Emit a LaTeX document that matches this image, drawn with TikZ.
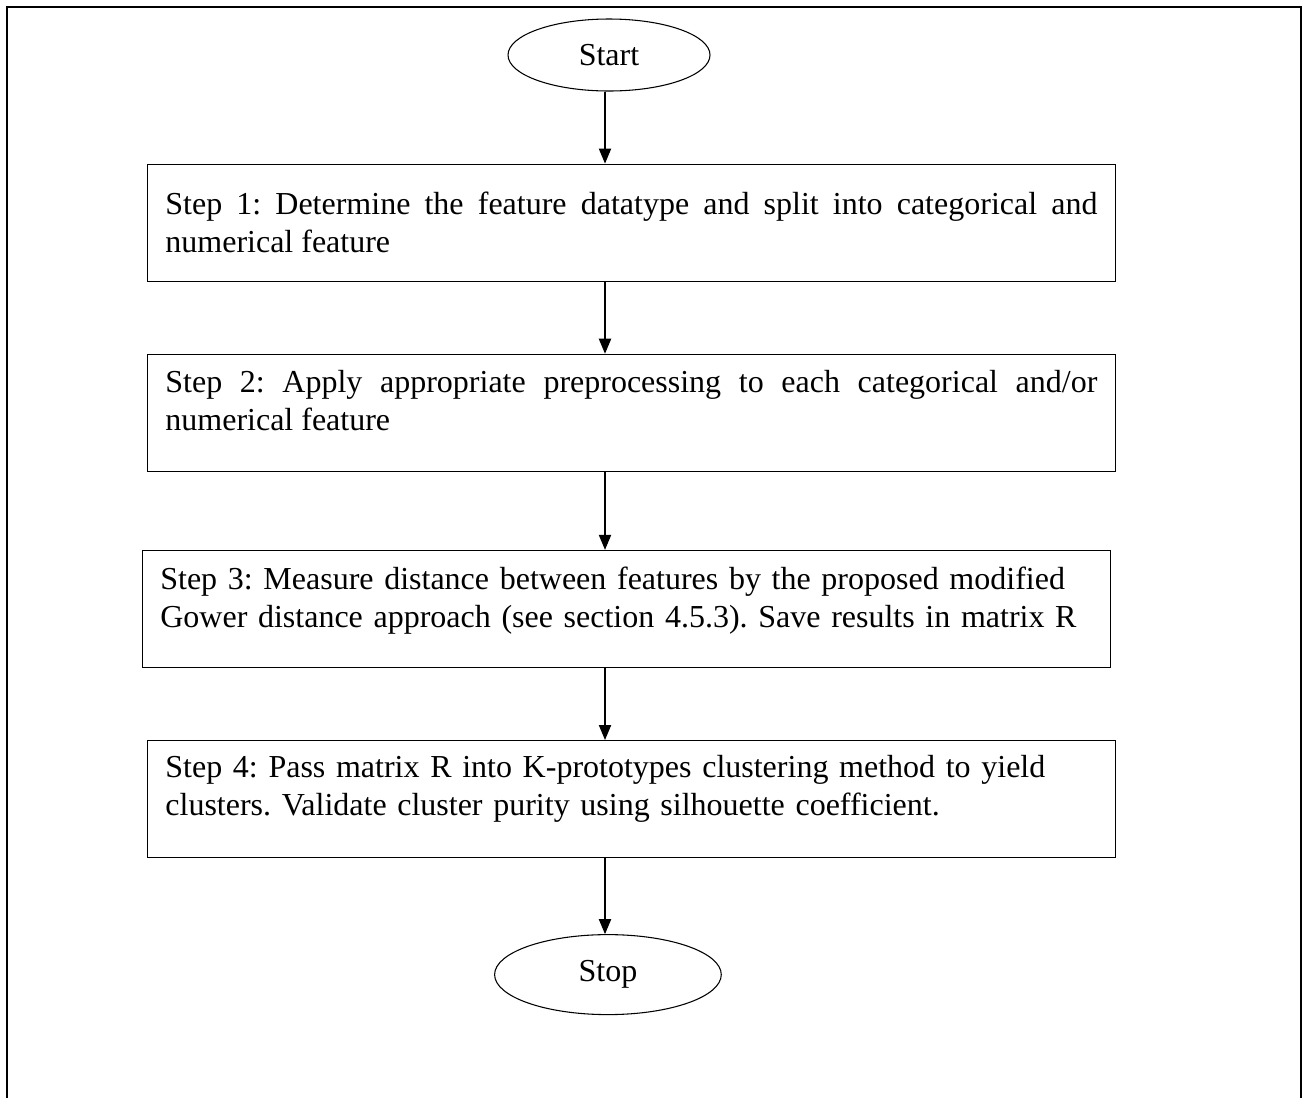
\documentclass[tikz,border=0pt]{standalone}
\usepackage{fontspec}
\setmainfont{Liberation Serif}
\usetikzlibrary{positioning,arrows.meta,shapes.geometric}
\frenchspacing

\begin{document}
\begin{tikzpicture}[
    x=0.375pt, y=-0.375pt,
    ->, >={Triangle[length=5.6pt,width=4.6pt]},
    every node/.style={font=\fontsize{12pt}{14.25pt}\selectfont},
    terminal/.style={ellipse, draw, thin, inner sep=0pt},
    stepbox/.style={rectangle, draw, thin, text width=349.5pt,
        inner xsep=6.75pt, inner ysep=2pt, minimum height=43.9pt},
    lift/.style={execute at end node={\rule[-#1]{0pt}{0pt}}}
]
\useasboundingbox (0,0) rectangle (1309,1097);

% outer frame
\draw[-, line width=1pt] (7,1100) -- (7,7) -- (1301,7) -- (1301,1100);

\node[terminal, minimum width=75.75pt, minimum height=27pt] (start) at (609,55) {Start};
\node[stepbox, align=justify, below=27pt of start, xshift=8.4pt] (s1)
    {Step 1: Determine the feature datatype and split into categorical and\linebreak numerical feature};
\node[stepbox, align=justify, lift=9pt, below=27pt of s1] (s2)
    {Step 2: Apply appropriate preprocessing to each categorical and/or\linebreak numerical feature};
\node[stepbox, align=left, lift=8.6pt, below=29.25pt of s2, xshift=-1.9pt] (s3)
    {Step 3: Measure distance between features by the proposed modified\\Gower distance approach (see section 4.5.3). Save results in matrix R};
\node[stepbox, align=left, lift=10pt, below=27pt of s3, xshift=1.9pt] (s4)
    {Step 4: Pass matrix R into K-prototypes clustering method to yield\\clusters. Validate cluster purity using silhouette coefficient.};
\node[terminal, minimum width=85pt, minimum height=30pt, below=28.5pt of s4, xshift=-8.8pt] (stop) {Stop};

\coordinate (spine) at (605,0);

\draw (start.south -| spine) -- (s1.north -| spine);
\draw (s1.south -| spine) -- (s2.north -| spine);
\draw (s2.south -| spine) -- (s3.north -| spine);
\draw (s3.south -| spine) -- (s4.north -| spine);
\draw (s4.south -| spine) -- (stop.north -| spine);

\end{tikzpicture}
\end{document}
